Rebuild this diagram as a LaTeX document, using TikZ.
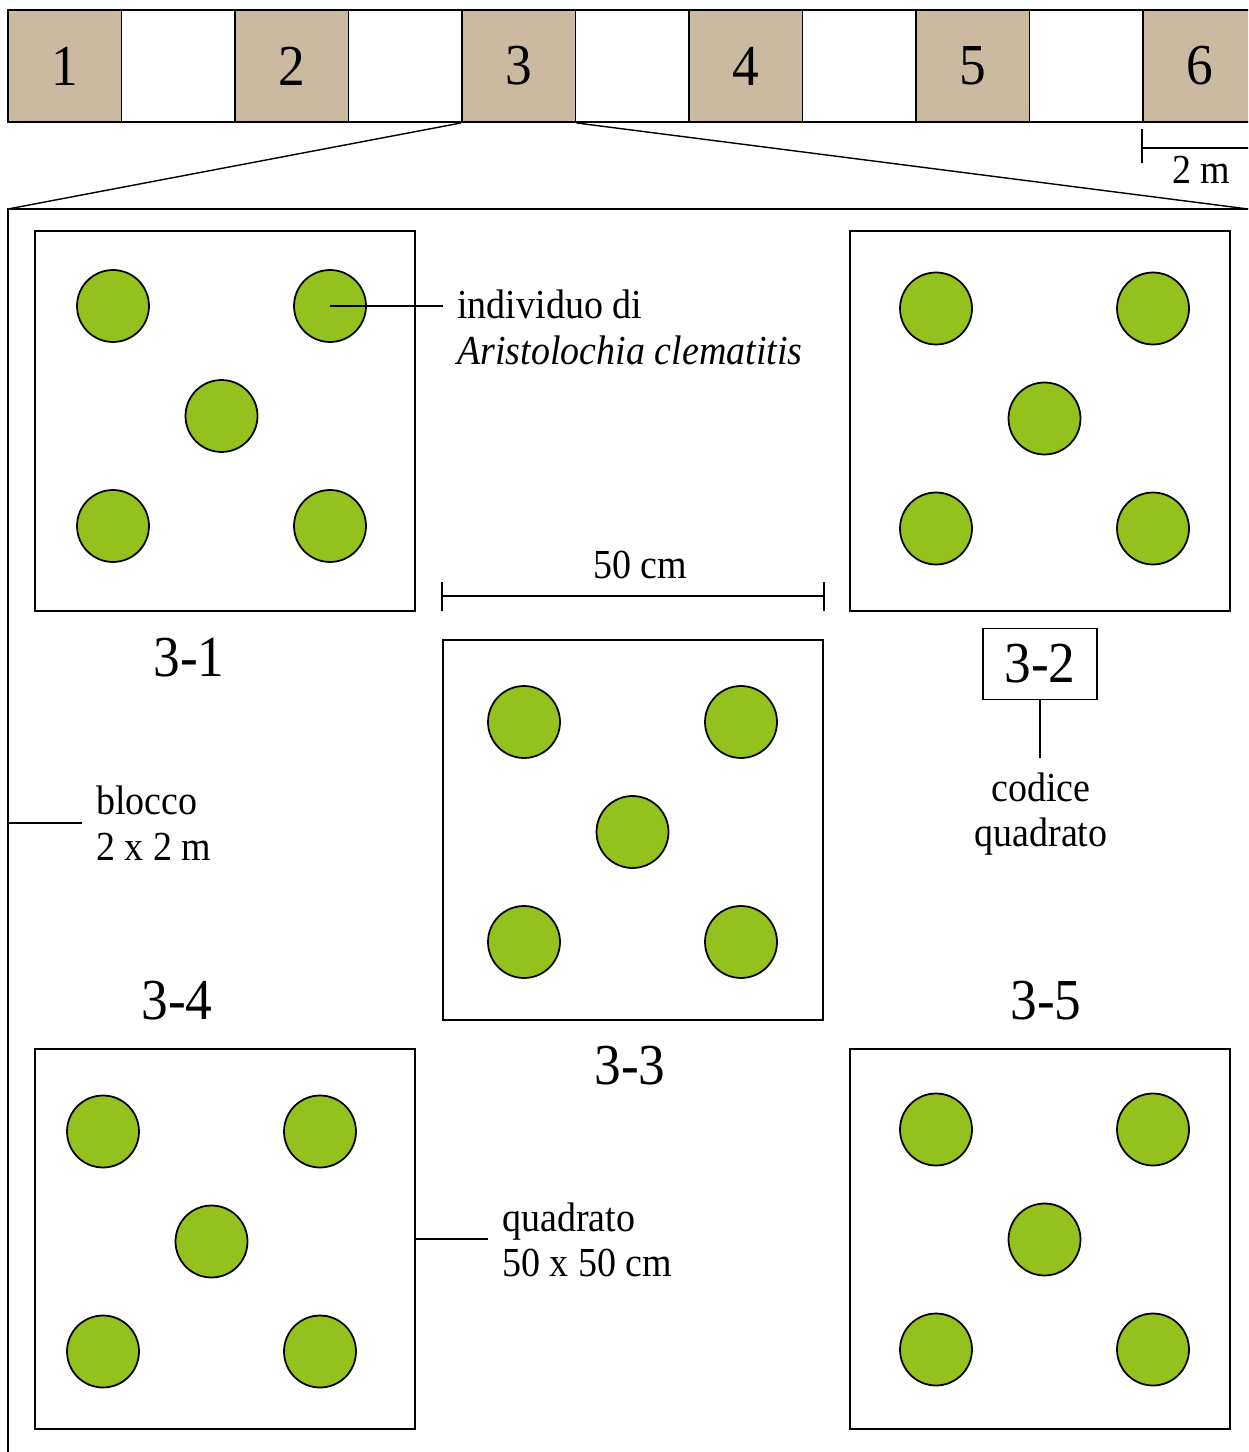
\documentclass[tikz,border=0pt]{standalone}
\usepackage{fontspec}
\setmainfont{Liberation Serif}[FakeStretch=0.92]
\usepackage{tikz}
\usetikzlibrary{positioning,calc}
\definecolor{terra}{HTML}{C9BAA0}
\definecolor{foglia}{HTML}{95C11F}

\begin{document}
\begin{tikzpicture}[x=0.02cm, y=-0.02cm, every node/.style={font=\fontsize{23.5}{26}\selectfont}]
\tikzset{cella/.style={draw, line width=1.1pt, minimum width=2.27cm, minimum height=2.24cm, inner sep=0pt, font=\fontsize{33}{36}\selectfont}}
\tikzset{quad/.style={draw, line width=1.1pt, minimum size=7.6cm, inner sep=0pt}}
\tikzset{pianta/.style={draw, circle, line width=1pt, fill=foglia, minimum size=1.44cm, inner sep=0pt}}
\tikzset{codice/.style={font=\fontsize{33}{36}\selectfont}}
\tikzset{nota/.style={inner sep=8pt, align=left}}
\tikzset{guida/.style={line width=0.6pt}}
\useasboundingbox (0,0) rectangle (1248,1452);
\clip (0,0) rectangle (1248,1452);
% strip of blocks
\foreach \i in {0,...,10} {
  \pgfmathtruncatemacro{\n}{\i/2+1}
  \ifodd\i
    \node[cella] (s\i) at ({64.75+113.5*\i},66) {};
  \else
    \node[cella, fill=terra] (s\i) at ({64.75+113.5*\i},66) {\n};
  \fi
}
% scale 2 m
\coordinate (t1) at ($(s10.south west)+(0,6)$);
\draw[line width=0.8pt] (t1) -- ++(0,34);
\draw[line width=0.8pt] ($(t1)+(0,19)$) -- ++(130,0);
\node (scala) at (1201,170) {2 m};
% block 3, enlarged
\coordinate (bNW) at (8,209);
\coordinate (bNE) at (1248,209);
\draw[line width=1.1pt] (bNW) rectangle (1270,1470);
\draw[line width=0.8pt] (s4.south west) -- (bNW);
\draw[line width=0.8pt] (s4.south east) -- (bNE);
% quadrati with five plants each
\foreach \q/\sx/\sy/\cx/\cy in {1/225/421/221.5/416, 2/1040/421/1044.5/418.5, 3/633/830/632.5/832, 4/225/1239/211.5/1241.5, 5/1040/1239/1044.5/1239.5} {
  \node[quad] (q\q) at (\sx,\sy) {};
  \node[pianta] (p\q-1) at (\cx-108.5,\cy-110) {};
  \node[pianta] (p\q-2) at (\cx+108.5,\cy-110) {};
  \node[pianta] (p\q-3) at (\cx,\cy) {};
  \node[pianta] (p\q-4) at (\cx-108.5,\cy+110) {};
  \node[pianta] (p\q-5) at (\cx+108.5,\cy+110) {};
}
% codes
\node[codice] (l1) at (189,658) {3-1};
\node[codice, draw, line width=0.7pt, minimum width=2.28cm, minimum height=1.42cm, inner sep=0pt] (l2) at (1040,664) {3-2};
\node[codice] (l3) at (630,1066) {3-3};
\node[codice] (l4) at (177,1001) {3-4};
\node[codice] (l5) at (1046,1001) {3-5};
% notes
\node[nota, anchor=west] (ind1) at (443,304) {individuo di};
\node[nota, anchor=west] (ind2) at (443,350) {\textit{Aristolochia clematitis}};
\draw[guida] (p1-2.center) -- (p1-2.center -| ind1.west);
\node[nota, anchor=west] (blocco) at (82,823) {blocco\\2 x 2 m};
\coordinate (bW) at (8,823);
\draw[guida] (bW) -- (blocco.west);
\node[nota, anchor=north, align=center] (clab) at (1041,758) {codice\\quadrato};
\draw[guida] (l2.south) -- (l2.south |- clab.north);
\node[nota, anchor=west] (qlab) at (488,1240) {quadrato\\50 x 50 cm};
\draw[guida] (q4.east) -- (q4.east -| qlab.west);
% 50 cm
\coordinate (m1) at ($(q3.north west)+(0,-43)$);
\coordinate (m2) at ($(q3.north east)+(0,-43)$);
\draw[line width=0.8pt] (m1) -- (m2);
\draw[line width=0.8pt] ($(m1)+(0,-14)$) -- ($(m1)+(0,15)$);
\draw[line width=0.8pt] ($(m2)+(0,-14)$) -- ($(m2)+(0,15)$);
\node (misura) at (640,565) {50 cm};
\end{tikzpicture}
\end{document}
